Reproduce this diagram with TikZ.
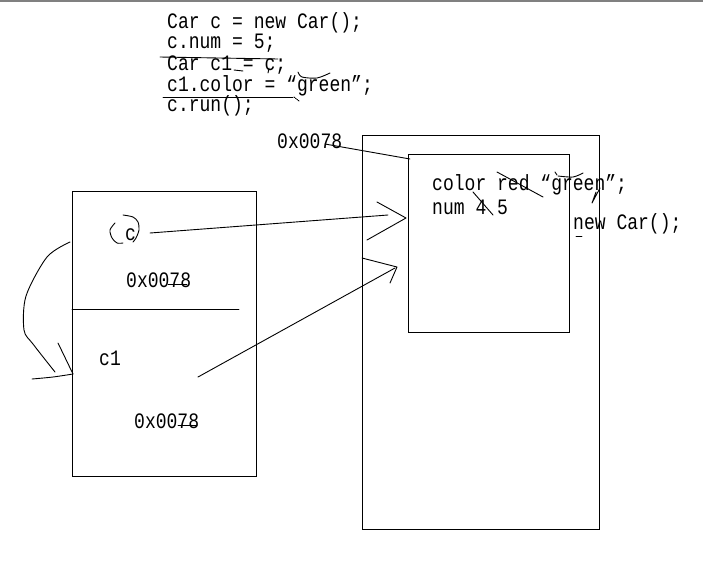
\documentclass[tikz,border=0pt]{standalone}
\usepackage{fontspec}
\newfontfamily\codefont[FakeStretch=0.82]{Liberation Mono}
\usetikzlibrary{positioning,calc}
\definecolor{ink}{HTML}{000000}
\definecolor{ruleGrey}{HTML}{808080}
\tikzset{
  sketch/.style={draw=ink,line width=0.9pt,line cap=round,line join=round},
  memory/.style={draw=ink,line width=1pt,rectangle,inner sep=0pt,anchor=north west},
  code/.style={font=\codefont\fontsize{22}{26}\selectfont,text=ink,inner sep=0pt,anchor=base west},
}
% hand drawn open arrow head: tip, first arm, second arm
\newcommand{\handtip}[3]{%
  \draw[sketch] (#2) -- (#1) -- (#3);
}

\begin{document}
\begin{tikzpicture}[x=1pt,y=-1pt]
\useasboundingbox (0,0) rectangle (703,579);
\draw[ruleGrey,line width=1.5pt] (0,0.75) -- (703,0.75);

% ================= SOURCE LINES =================
\node[code] (ln1) at (167,28) {Car c = new Car();};
\node[code] (ln2) at (167,48) {c.num = 5;};
\node[code] (ln3) at (167,70) {Car c1 = c;};
\node[code] (ln4) at (167,91) {c1.color = “green”;};
\node[code] (ln5) at (167,111) {c.run();};
\draw[sketch] (160,57) -- (278,59);
\draw[sketch] (234,70) -- (243,71);
\draw[sketch] (269,68) -- (268,73);
\draw[sketch] plot[smooth] coordinates {(298,72) (302,77) (317,78) (330,73)};
\draw[sketch] (163,97) -- (293,97);
\draw[sketch,densely dotted] (294,97) -- (299,101);

% ================= STACK =================
\node[memory,minimum width=184pt,minimum height=285pt] (stack) at (72,191) {};
\draw[sketch] ($(stack.north west)+(0,118)$) -- ++(167,0);
\node[code] (cVar) at (125,240) {c};
\node[code] (cAddr) at (126,287) {0x0078};
\node[code] (cOneVar) at (99,365) {c1};
\node[code] (cOneAddr) at (134,428) {0x0078};
\draw[sketch] (168,284) -- (187,284);
\draw[sketch] (178,425) -- (197,425);
\draw[sketch] plot[smooth] coordinates {(123,215) (133,217) (138,222) (139,230) (136,238) (133,242)};
\draw[sketch] plot[smooth] coordinates {(115,223) (110,230) (112,238) (117,243) (123,243)};

% c copied into c1
\coordinate (loopTail) at (70,242);
\coordinate (tipC) at (73,374);
\draw[sketch] plot[smooth] coordinates {(loopTail) (47,257) (26,296) (24,330) (33,344) (55,372)};
\draw[sketch] plot[smooth] coordinates {($(tipC)+(-41,5)$) ($(tipC)+(-20,3)$) (tipC)};
\draw[sketch] ($(tipC)+(-15,-31)$) -- (tipC);

% ================= HEAP =================
\node[memory,minimum width=237pt,minimum height=394pt] (heap) at (362,135) {};
\node[memory,minimum width=161pt,minimum height=178pt] (obj) at (408,154) {};
\node[code] (objAddr) at (277,148) {0x0078};
\coordinate (addrTail) at (325,144);
\draw[sketch] (addrTail) -- ($(obj.north west)+(2,5)$);

\node[code] (colorField) at (432,190) {color red “green”;};
\node[code] (numField) at (432,214) {num 4 5};
\node[code] (newCar) at (573,229) {new Car();};
\draw[sketch] (497,172) -- (543,197);
\draw[sketch] (473,192) -- (493,215);
\draw[sketch] (555,172) -- (557,175);
\draw[sketch] plot[smooth] coordinates {(558,176) (573,177) (583,173)};
\draw[sketch] (600,188) -- (592,203) -- (596,192);
\draw[sketch] (576,236) -- (582,236);

% ================= REFERENCES =================
\coordinate (cTail) at (150,233);
\coordinate (tipA) at (406,218);
\draw[sketch] (cTail) -- ($(tipA)+(-18,-3)$);
\handtip{tipA}{$(tipA)+(-29,-16)$}{$(tipA)+(-39,22)$}

\coordinate (cOneTail) at (198,377);
\coordinate (tipB) at (397,267);
\draw[sketch] (cOneTail) -- ($(tipB)+(-2,1)$);
\handtip{tipB}{$(tipB)+(-35,-9)$}{$(tipB)+(-7,16)$}

\end{tikzpicture}
\end{document}
